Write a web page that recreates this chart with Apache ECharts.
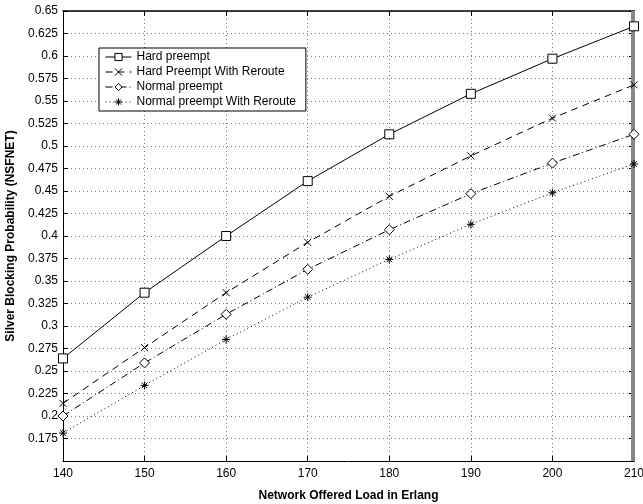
<!DOCTYPE html>
<html>
<head>
<meta charset="utf-8">
<script src="https://cdn.jsdelivr.net/npm/echarts@6/dist/echarts.min.js"></script>
<style>html,body{margin:0;padding:0;background:#fff;}#c{width:643px;height:504px;}</style>
</head>
<body>
<div id="c"></div>
<script>
const loads = [140, 150, 160, 170, 180, 190, 200, 210];
const hardPreempt = [0.264, 0.337, 0.400, 0.461, 0.513, 0.558, 0.597, 0.633];
const hardPreemptReroute = [0.214, 0.276, 0.337, 0.393, 0.444, 0.489, 0.531, 0.568];
const normalPreempt = [0.200, 0.259, 0.313, 0.363, 0.407, 0.447, 0.481, 0.513];
const normalPreemptReroute = [0.181, 0.234, 0.285, 0.332, 0.374, 0.413, 0.448, 0.480];
const seriesNames = ['Hard preempt', 'Hard Preempt With Reroute', 'Normal preempt', 'Normal preempt With Reroute'];

const FONT = 'Liberation Sans, Arial, Helvetica, sans-serif';
const xSym = 'path://M0,0L10,10M10,0L0,10';
const starSym = 'path://M5,0L5,10M0,5L10,5M1.5,1.5L8.5,8.5M8.5,1.5L1.5,8.5';

function pairs(vals) { return loads.map((x, i) => [x, vals[i]]); }

const chart = echarts.init(document.getElementById('c'), null, {renderer: 'canvas'});
const tickStyle = {show: true, inside: true, length: 5, lineStyle: {color: '#000', width: 1}};
const gridLine = {show: true, lineStyle: {color: '#777', type: [1, 3], width: 1}};

function mk(name, vals, sym, size, ltype, fill) {
  return {
    name: name, type: 'line', data: pairs(vals), symbol: sym, symbolSize: size,
    showAllSymbol: true, animation: false, z: 5,
    lineStyle: {color: '#000', width: 1, type: ltype},
    itemStyle: {color: fill, borderColor: '#000', borderWidth: 1},
    emphasis: {disabled: true}
  };
}

chart.setOption({
  backgroundColor: '#fff',
  animation: false,
  grid: {left: 63, right: 9, top: 11, bottom: 43, containLabel: false, outerBoundsMode: 'none'},
  xAxis: [{
    type: 'value', min: 140, max: 210, interval: 10, position: 'bottom',
    name: 'Network Offered Load in Erlang', nameLocation: 'middle', nameGap: 29,
    nameTextStyle: {fontFamily: FONT, fontSize: 12, fontWeight: 'bold', color: '#000'},
    axisLine: {show: true, onZero: false, lineStyle: {color: '#000', width: 1}},
    axisTick: tickStyle,
    axisLabel: {fontFamily: FONT, fontSize: 12, color: '#000', margin: 7},
    splitLine: gridLine
  }, {
    type: 'value', min: 140, max: 210, interval: 10, position: 'top',
    axisLine: {show: true, onZero: false, lineStyle: {color: '#000', width: 1.5}},
    axisTick: tickStyle, axisLabel: {show: false}, splitLine: {show: false}
  }],
  yAxis: [{
    type: 'value', min: 0.15, max: 0.65, interval: 0.025, position: 'left',
    name: 'Silver Blocking Probability (NSFNET)', nameLocation: 'middle', nameGap: 46,
    nameTextStyle: {fontFamily: FONT, fontSize: 12, fontWeight: 'bold', color: '#000'},
    axisLine: {show: true, onZero: false, lineStyle: {color: '#000', width: 1}},
    axisTick: tickStyle,
    axisLabel: {
      fontFamily: FONT, fontSize: 12, color: '#000', margin: 5,
      formatter: function (v) { return Math.abs(v - 0.15) < 1e-9 ? '' : String(+v.toFixed(3)); }
    },
    splitLine: gridLine
  }, {
    type: 'value', min: 0.15, max: 0.65, interval: 0.025, position: 'right',
    axisLine: {show: true, onZero: false, lineStyle: {color: '#000', width: 1}},
    axisTick: tickStyle, axisLabel: {show: false}, splitLine: {show: false}
  }],
  legend: {
    orient: 'vertical', left: 99, top: 48, z: 10,
    backgroundColor: '#fff', borderColor: '#000', borderWidth: 1,
    padding: [3, 10, 3, 6], itemGap: 3, itemWidth: 26, itemHeight: 9,
    lineStyle: {width: 1},
    itemStyle: {borderWidth: 1},
    textStyle: {fontFamily: FONT, fontSize: 12, color: '#000'},
    data: seriesNames
  },
  graphic: [{
    type: 'rect', right: 8, top: 11, shape: {width: 4, height: 450},
    style: {fill: '#888'}, z: 1
  }],
  series: [
    mk(seriesNames[0], hardPreempt, 'rect', 9, 'solid', '#fff'),
    mk(seriesNames[1], hardPreemptReroute, xSym, 7, [7, 5], '#000'),
    mk(seriesNames[2], normalPreempt, 'diamond', 10, [7, 3, 1, 3], '#fff'),
    mk(seriesNames[3], normalPreemptReroute, starSym, 8, [1, 3], '#000')
  ]
});
</script>
</body>
</html>
